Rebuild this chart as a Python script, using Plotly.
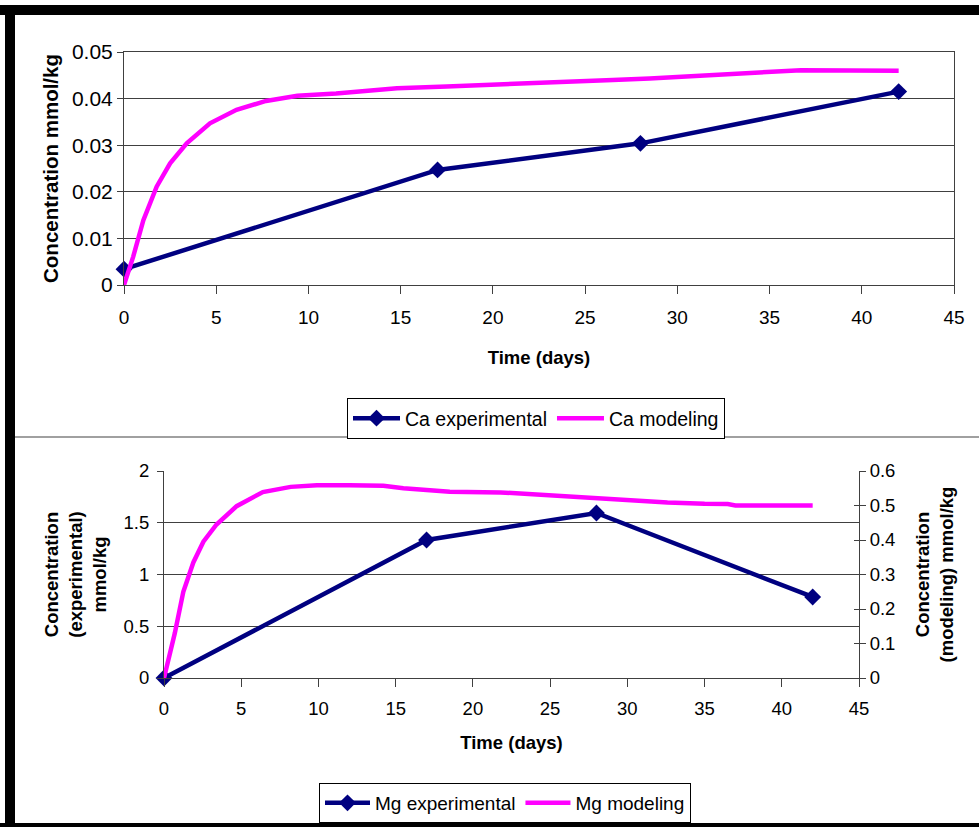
import plotly.graph_objects as go

# ---- Ca (top chart) ----
ca_exp_days = [0, 17, 28, 42]
ca_exp_vals = [0.0034, 0.0247, 0.0304, 0.0415]

ca_mod_days = [0, 0.5, 1.05, 1.77, 2.5, 3.4, 4.66, 6.1, 7.7, 9.4, 11.5, 13.0,
               14.8, 17.5, 19.8, 22.4, 26.5, 28.5, 33.0, 36.7, 42]
ca_mod_vals = [0, 0.0061, 0.0139, 0.0211, 0.0261, 0.0304, 0.0347, 0.0376, 0.0395,
               0.0406, 0.0411, 0.0417, 0.0422, 0.0426, 0.0429, 0.0434, 0.0440,
               0.0443, 0.0453, 0.0461, 0.0460]

# ---- Mg (bottom chart) ----
mg_exp_days = [0, 17, 28, 42]
mg_exp_vals = [0.0, 1.333, 1.594, 0.783]

mg_mod_days = [0, 0.7, 1.25, 1.9, 2.55, 3.4, 4.7, 6.4, 8.2, 9.9, 12.0, 14.2, 15.5,
               18.5, 21.8, 26.1, 29.3, 32.6, 35.0, 36.5, 37.0, 42]
mg_mod_vals = [0, 0.130, 0.250, 0.335, 0.395, 0.445, 0.498, 0.539, 0.554, 0.559,
               0.559, 0.557, 0.550, 0.540, 0.538, 0.526, 0.518, 0.509, 0.505,
               0.504, 0.500, 0.500]

W, H = 979, 827
FONT = "Liberation Sans, Arial, sans-serif"
NAVY = "#000080"
MAGENTA = "#FF00FF"
GRID = "#404040"


def px_x(p):
    return p / W


def px_y(p):
    return 1 - p / H


def tfont(size):
    return dict(family=FONT, size=size, color="black")


fig = go.Figure()

fig.add_trace(go.Scatter(
    x=ca_exp_days, y=ca_exp_vals, name="Ca experimental", mode="lines+markers",
    line=dict(color=NAVY, width=4.5), marker=dict(symbol="diamond", size=13, color=NAVY),
    xaxis="x", yaxis="y", cliponaxis=False, legend="legend"))
fig.add_trace(go.Scatter(
    x=ca_mod_days, y=ca_mod_vals, name="Ca modeling", mode="lines",
    line=dict(color=MAGENTA, width=4.5), xaxis="x", yaxis="y",
    cliponaxis=False, legend="legend"))

fig.add_trace(go.Scatter(
    x=mg_exp_days, y=mg_exp_vals, name="Mg experimental", mode="lines+markers",
    line=dict(color=NAVY, width=4.5), marker=dict(symbol="diamond", size=13, color=NAVY),
    xaxis="x2", yaxis="y2", cliponaxis=False, legend="legend2"))
fig.add_trace(go.Scatter(
    x=mg_mod_days, y=mg_mod_vals, name="Mg modeling", mode="lines",
    line=dict(color=MAGENTA, width=4.5), xaxis="x2", yaxis="y3",
    cliponaxis=False, legend="legend2"))
# empty trace so the inner-tick axis on the right gets drawn
fig.add_trace(go.Scatter(
    x=[None], y=[None], mode="lines", xaxis="x2", yaxis="y4",
    showlegend=False, hoverinfo="skip"))

axis_common = dict(
    showline=True, linecolor=GRID, linewidth=1, ticks="outside", tickcolor=GRID,
    zeroline=False, automargin=False,
)

fig.update_layout(
    width=W, height=H,
    margin=dict(l=0, r=0, t=0, b=0, pad=0, autoexpand=False),
    paper_bgcolor="white", plot_bgcolor="white",
    font=dict(family=FONT, color="black"),
    xaxis=dict(
        domain=[px_x(124), px_x(954)], range=[0, 45], dtick=5, anchor="y",
        showgrid=False, ticklen=8, mirror=True, tickfont=tfont(19),
        ticklabelstandoff=7,
        title=dict(text="<b>Time (days)</b>", font=tfont(18.5), standoff=24),
        **axis_common),
    yaxis=dict(
        domain=[px_y(285), px_y(52)], range=[0, 0.05], dtick=0.01, anchor="x",
        showgrid=True, gridcolor=GRID, gridwidth=1, ticklen=6, mirror=True,
        tickfont=tfont(21),
        title=dict(text="<b>Concentration mmol/kg</b>", font=tfont(20.5), standoff=7),
        **axis_common),
    xaxis2=dict(
        domain=[px_x(164), px_x(859)], range=[0, 45], dtick=5, anchor="y2",
        showgrid=False, ticklen=8, tickfont=tfont(18.5), ticklabelstandoff=6,
        title=dict(text="<b>Time (days)</b>", font=tfont(18.5), standoff=17),
        **axis_common),
    yaxis2=dict(
        domain=[px_y(678), px_y(471)], range=[0, 2], dtick=0.5, anchor="x2",
        showgrid=True, gridcolor=GRID, gridwidth=1, ticklen=6, tickfont=tfont(18.5),
        ticklabelstandoff=4,
        title=dict(text="<b>Concentration<br>(experimental)<br>mmol/kg</b>",
                   font=tfont(18.5), standoff=12),
        **axis_common),
    yaxis3=dict(
        range=[0, 0.6], dtick=0.1, anchor="x2", overlaying="y2", side="right",
        showgrid=False, ticklen=6, tickfont=tfont(18.5),
        title=dict(text="<b>Concentration<br>(modeling) mmol/kg</b>",
                   font=tfont(18.5), standoff=21),
        **axis_common),
    # inner half of the right-hand tick marks (they cross the axis line)
    yaxis4=dict(
        range=[0, 0.6], dtick=0.1, anchor="x2", overlaying="y2", side="right",
        showgrid=False, showline=False, zeroline=False, ticks="inside", ticklen=5,
        tickcolor=GRID, showticklabels=False, automargin=False),
    legend=dict(
        orientation="h", x=px_x(347), y=px_y(398), xanchor="left", yanchor="top",
        bordercolor="black", borderwidth=1, bgcolor="white",
        font=tfont(19.5), itemwidth=47),
    legend2=dict(
        orientation="h", x=px_x(319), y=px_y(783), xanchor="left", yanchor="top",
        bordercolor="black", borderwidth=1, bgcolor="white",
        font=tfont(19), itemwidth=45),
    shapes=[
        # frame bands
        dict(type="rect", xref="paper", yref="paper", x0=0, x1=1,
             y0=px_y(15), y1=px_y(5), fillcolor="black", line_width=0, layer="above"),
        dict(type="rect", xref="paper", yref="paper", x0=px_x(5), x1=px_x(15),
             y0=px_y(827), y1=px_y(5), fillcolor="black", line_width=0, layer="above"),
        dict(type="rect", xref="paper", yref="paper", x0=0, x1=1,
             y0=0, y1=px_y(823), fillcolor="black", line_width=0, layer="above"),
        # divider between the two charts
        dict(type="line", xref="paper", yref="paper", x0=px_x(15), x1=1,
             y0=px_y(437), y1=px_y(437), line=dict(color="#808080", width=1.5),
             layer="above"),
    ],
)

fig.write_html(
    "out.html",
    post_script="document.body.style.margin='0';document.body.style.padding='0';",
)
